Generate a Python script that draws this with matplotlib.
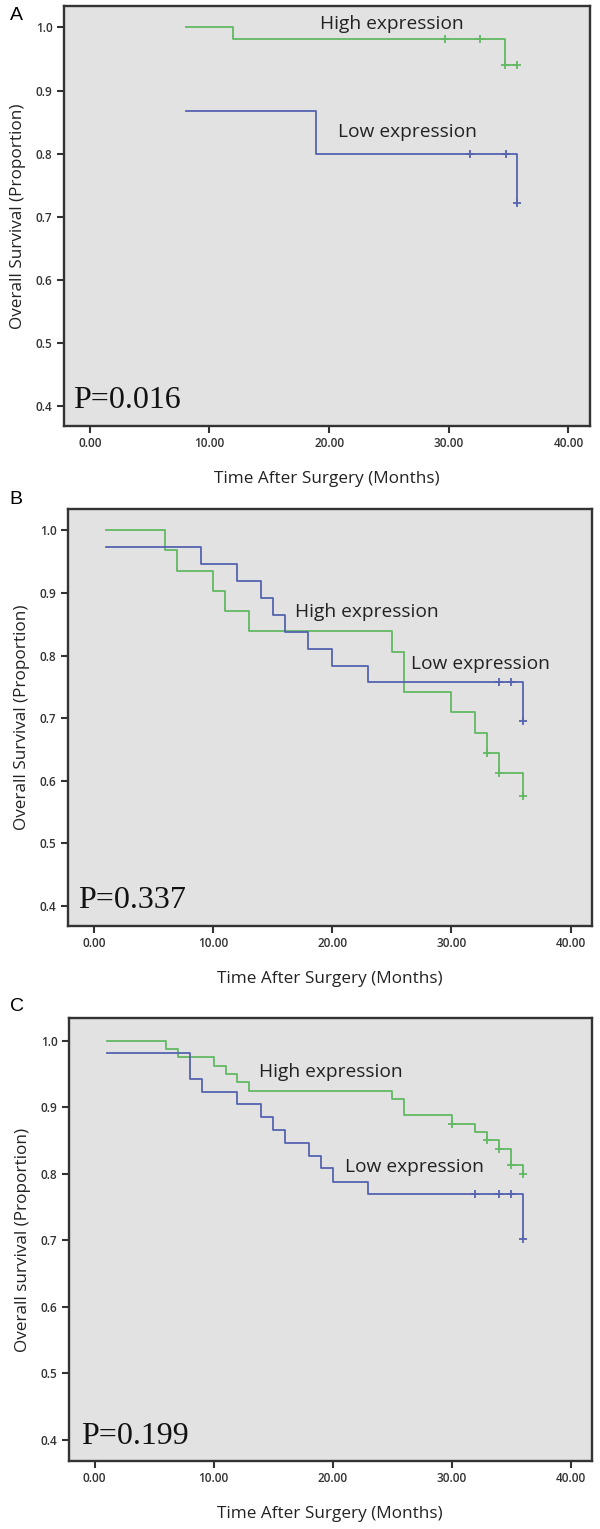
import matplotlib
matplotlib.use("Agg")
import matplotlib.pyplot as plt
import numpy as np

# ---------------- data ----------------
x_ticks = [0, 10, 20, 30, 40]
x_tick_labels = ["0.00", "10.00", "20.00", "30.00", "40.00"]
y_ticks = [0.4, 0.5, 0.6, 0.7, 0.8, 0.9, 1.0]
y_tick_labels = ["0.4", "0.5", "0.6", "0.7", "0.8", "0.9", "1.0"]

# Panel A
a_green_t = [8, 12, 34.7]
a_green_s = [1.0, 0.981, 0.940]
a_green_end = 35.7
a_green_cens = [29.7, 32.6, 34.7, 35.7]
a_blue_t = [8, 18.9, 35.7]
a_blue_s = [0.868, 0.800, 0.721]
a_blue_end = 35.7
a_blue_cens = [31.8, 34.8, 35.7]

# Panel B
b_green_t = [1, 6, 7, 10, 11, 13, 25, 26, 30, 32, 33, 34, 36]
b_green_s = [1.0, 0.968, 0.935, 0.903, 0.871, 0.839, 0.806, 0.742, 0.710, 0.677, 0.645, 0.612, 0.576]
b_green_end = 36
b_green_cens = [33, 34, 36]
b_blue_t = [1, 9, 12, 14, 15, 16, 18, 20, 23, 36]
b_blue_s = [0.973, 0.946, 0.919, 0.892, 0.865, 0.838, 0.811, 0.784, 0.757, 0.696]
b_blue_end = 36
b_blue_cens = [34, 35, 36]

# Panel C
c_green_t = [1, 6, 7, 10, 11, 12, 13, 25, 26, 30, 32, 33, 34, 35, 36]
c_green_s = [1.0, 0.9875, 0.975, 0.9625, 0.95, 0.9375, 0.925, 0.9125, 0.8875,
             0.875, 0.8625, 0.85, 0.8375, 0.8125, 0.80]
c_green_end = 36
c_green_cens = [30, 33, 34, 35, 36]
c_blue_t = [1, 8, 9, 12, 14, 15, 16, 18, 19, 20, 23, 36]
c_blue_s = [0.981, 0.942, 0.923, 0.904, 0.885, 0.865, 0.846, 0.827, 0.808, 0.788, 0.769, 0.702]
c_blue_end = 36
c_blue_cens = [32, 34, 35, 36]

panel_letters = ["A", "B", "C"]
p_texts = ["P=0.016", "P=0.337", "P=0.199"]
y_labels = ["Overall Survival (Proportion)", "Overall Survival (Proportion)",
            "Overall survival (Proportion)"]
x_label = "Time After Surgery (Months)"
high_label = "High expression"
low_label = "Low expression"

# ---------------- style ----------------
GREEN = "#62b862"
BLUE = "#5563b0"
BG = "#e2e2e2"
SANS = ["Open Sans", "DejaVu Sans"]

W, H = 600, 1529
fig = plt.figure(figsize=(W / 100, H / 100), dpi=100)
fig.patch.set_facecolor("white")

# axes pixel boxes: left, right, top, bottom
boxes = [(63.5, 590, 6, 426), (67.7, 592, 509, 926), (68.5, 592, 1018, 1461)]
letter_pos = [(10, 15), (9, 500), (10, 1007)]

# annotation positions (data coords: x-left, y-center)
high_pos = [(19.2, 1.005), (16.9, 0.869), (13.8, 0.9525)]
low_pos = [(20.75, 0.834), (26.6, 0.787), (21.0, 0.810)]
p_pos = [(-1.4, 0.408), (-1.3, 0.408), (-1.15, 0.405)]

series = [
    ((a_green_t, a_green_s, a_green_end, a_green_cens), (a_blue_t, a_blue_s, a_blue_end, a_blue_cens)),
    ((b_green_t, b_green_s, b_green_end, b_green_cens), (b_blue_t, b_blue_s, b_blue_end, b_blue_cens)),
    ((c_green_t, c_green_s, c_green_end, c_green_cens), (c_blue_t, c_blue_s, c_blue_end, c_blue_cens)),
]


def draw_km(ax, t, s, end, cens, color):
    tt = list(t) + [end]
    ss = list(s) + [s[-1]]
    ax.step(tt, ss, where="post", color=color, lw=1.3, zorder=3)
    cy = []
    for c in cens:
        idx = np.searchsorted(np.array(t), c, side="right") - 1
        cy.append(s[idx])
    ax.plot(cens, cy, linestyle="none", marker="+", ms=5.5, mew=1.3, color=color, zorder=4)


for i in range(3):
    l, r, tp, bt = boxes[i]
    ax = fig.add_axes([l / W, 1 - bt / H, (r - l) / W, (bt - tp) / H])
    ax.set_facecolor(BG)
    ax.set_xlim(-2.2, 41.8)
    ax.set_ylim(0.368, 1.034)
    for sp in ax.spines.values():
        sp.set_color("#333333")
        sp.set_linewidth(1.7)
    ax.set_xticks(x_ticks)
    ax.set_xticklabels(x_tick_labels, fontsize=8.5, family=SANS, color="#333333", fontweight="semibold")
    ax.set_yticks(y_ticks)
    ax.set_yticklabels(y_tick_labels, fontsize=8.5, family=SANS, color="#333333", fontweight="semibold")
    ax.tick_params(direction="out", length=5, width=1.5, color="#333333", pad=3)
    ax.set_xlabel(x_label, fontsize=12.3, family=SANS, color="#222222", labelpad=15)
    ax.set_ylabel(y_labels[i], fontsize=12.3, family=SANS, color="#222222", labelpad=7)

    g, b = series[i]
    draw_km(ax, *g, GREEN)
    draw_km(ax, *b, BLUE)

    ax.text(high_pos[i][0], high_pos[i][1], high_label, fontsize=13.8, family=SANS,
            color="#222222", ha="left", va="center", zorder=5)
    ax.text(low_pos[i][0], low_pos[i][1], low_label, fontsize=13.8, family=SANS,
            color="#222222", ha="left", va="center", zorder=5)
    ax.text(p_pos[i][0], p_pos[i][1], p_texts[i], fontsize=23,
            family=["Liberation Serif", "DejaVu Serif"], color="#111111",
            ha="left", va="center", zorder=5)

    lx, ly = letter_pos[i]
    fig.text(lx / W, 1 - ly / H, panel_letters[i], fontsize=14,
             family=["Liberation Sans", "DejaVu Sans"], ha="left", va="center")

fig.savefig("out.png", dpi=100, facecolor="white")
